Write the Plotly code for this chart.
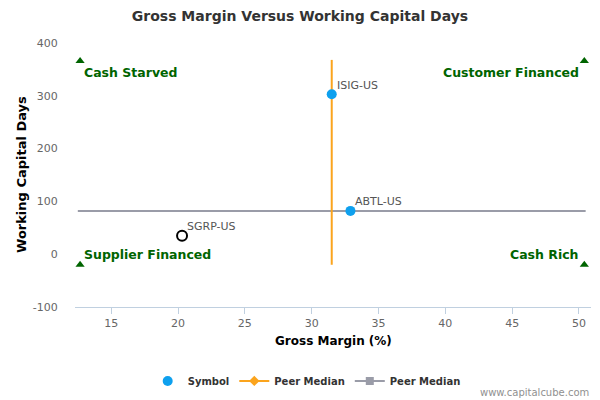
import plotly.graph_objects as go

# Data
symbols = ["ISIG-US", "ABTL-US"]
sym_x = [31.5, 32.9]
sym_y = [303, 82]

peer_symbol = ["SGRP-US"]
peer_x = [20.3]
peer_y = [35]

median_x = 31.5
median_y = 82
vline_y = [-20, 368]
hline_x = [12.5, 50.5]

corner_x = [12.67, 50.4, 12.67, 50.4]
corner_y = [366, 366, -20, -20]

quad_labels = ["Cash Starved", "Customer Financed", "Supplier Financed", "Cash Rich"]
quad_x = [12.85, 50.15, 12.85, 50.15]
quad_y = [345, 345, 0, 0]
quad_anchor = ["left", "right", "left", "right"]

x_ticks = [15, 20, 25, 30, 35, 40, 45, 50]
y_ticks = [-100, 0, 100, 200, 300, 400]
y_ticktext = ["-100", "0", "100", "200", "300", "400"]

BLUE = "#0ea0ee"
ORANGE = "#fba41d"
GRAY = "#9a9ca8"
GREEN = "#006400"
FONT = "DejaVu Sans"

fig = go.Figure()

# median lines
fig.add_trace(go.Scatter(x=hline_x, y=[median_y, median_y], mode="lines",
                         line=dict(color=GRAY, width=2), showlegend=False, hoverinfo="skip"))
fig.add_trace(go.Scatter(x=[median_x, median_x], y=vline_y, mode="lines",
                         line=dict(color=ORANGE, width=2), showlegend=False, hoverinfo="skip"))

# corner triangles
fig.add_trace(go.Scatter(x=corner_x, y=corner_y, mode="markers",
                         marker=dict(symbol="triangle-up", size=8, color=GREEN),
                         showlegend=False, hoverinfo="skip"))

# symbols
fig.add_trace(go.Scatter(x=sym_x, y=sym_y, mode="markers", marker=dict(size=10, color=BLUE),
                         name="Symbol", showlegend=True))

fig.add_trace(go.Scatter(x=peer_x, y=peer_y, mode="markers",
                         marker=dict(size=10, color="white", line=dict(color="black", width=2)),
                         showlegend=False))

# legend dummies
fig.add_trace(go.Scatter(x=[None], y=[None], mode="lines+markers", name="Peer Median",
                         line=dict(color=ORANGE, width=2),
                         marker=dict(symbol="diamond", size=8, color=ORANGE)))
fig.add_trace(go.Scatter(x=[None], y=[None], mode="lines+markers", name="Peer Median",
                         line=dict(color=GRAY, width=2),
                         marker=dict(symbol="square", size=8, color=GRAY)))

annotations = []
for t, x, y in zip(symbols + peer_symbol, sym_x + peer_x, sym_y + peer_y):
    annotations.append(dict(x=x, y=y, xref="x", yref="y", text=t, showarrow=False,
                            xanchor="left", yanchor="middle", xshift=3, yshift=9,
                            font=dict(family=FONT, size=11, color="#555555")))
for t, x, y, a in zip(quad_labels, quad_x, quad_y, quad_anchor):
    annotations.append(dict(x=x, y=y, xref="x", yref="y", text="<b>" + t + "</b>",
                            showarrow=False, xanchor=a, yanchor="middle",
                            font=dict(family=FONT, size=12.5, color=GREEN)))
annotations.append(dict(x=1, y=-0.322, xref="paper", yref="paper",
                        text="www.capitalcube.com", showarrow=False,
                        xanchor="right", yanchor="middle",
                        font=dict(family=FONT, size=10, color="#909090")))
# axis titles
annotations.append(dict(x=0.5, y=0, xref="paper", yref="paper", yshift=-34,
                        text="<b>Gross Margin (%)</b>", showarrow=False,
                        xanchor="center", yanchor="middle",
                        font=dict(family=FONT, size=12, color="#000000")))
annotations.append(dict(x=0, y=0.5, xref="paper", yref="paper", xshift=-54,
                        text="<b>Working Capital Days</b>", showarrow=False, textangle=-90,
                        xanchor="center", yanchor="middle",
                        font=dict(family=FONT, size=13, color="#000000")))

fig.update_layout(
    width=600, height=400,
    margin=dict(l=75, r=9, t=43, b=93, autoexpand=False),
    paper_bgcolor="white", plot_bgcolor="white",
    title=dict(text="<b>Gross Margin Versus Working Capital Days</b>", x=0.5, xanchor="center",
               y=0.96, yanchor="middle",
               font=dict(family=FONT, size=14, color="#333333")),
    font=dict(family=FONT),
    showlegend=True,
    legend=dict(orientation="h", x=0.449, xanchor="center", y=-0.28, yanchor="middle",
                font=dict(family=FONT, size=10, color="#333333", weight="bold"),
                itemwidth=30),
    annotations=annotations,
)

fig.update_xaxes(range=[12.29, 50.9], tickvals=x_ticks, showgrid=False, zeroline=False,
                 showline=True, linecolor="#c0d0e0", linewidth=1, automargin=False,
                 ticks="outside", ticklen=6, tickcolor="#c0d0e0",
                 tickfont=dict(family=FONT, size=11, color="#666666"))
fig.update_yaxes(range=[-100, 400], tickvals=y_ticks, ticktext=y_ticktext,
                 showgrid=False, zeroline=False, showline=False, automargin=False,
                 ticks="outside", ticklen=14, tickcolor="rgba(0,0,0,0)",
                 tickfont=dict(family=FONT, size=11, color="#666666"))

fig.write_html("out.html", config={"displayModeBar": False},
               post_script="document.body.style.margin='0';")
